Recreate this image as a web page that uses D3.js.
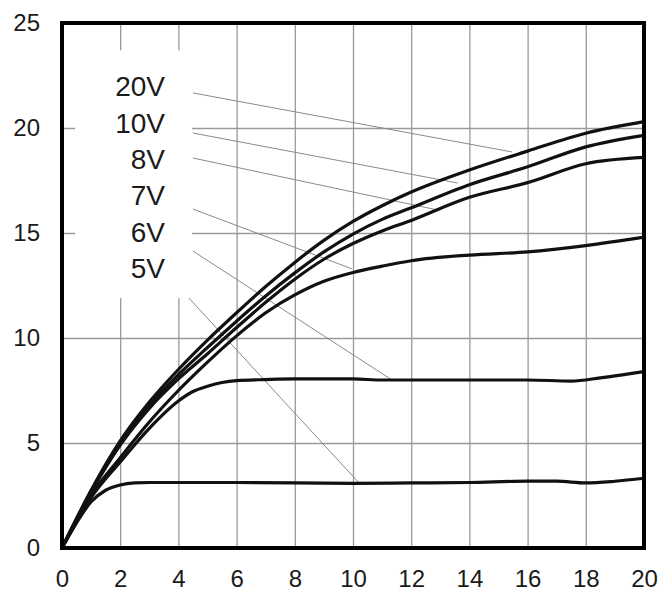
<!DOCTYPE html>
<html>
<head>
<meta charset="utf-8">
<script src="https://cdn.jsdelivr.net/npm/d3@7"></script>
<style>
  html, body { margin: 0; padding: 0; background: #fff; }
  svg { display: block; }
  text { font-family: "Liberation Sans", Arial, sans-serif; fill: #1a1a1a; }
</style>
</head>
<body>
<svg id="chart" width="662" height="591"></svg>
<script>
// Output curves, one per gate voltage: [x, y] pairs
const xTicks = [0, 2, 4, 6, 8, 10, 12, 14, 16, 18, 20];
const yTicks = [0, 5, 10, 15, 20, 25];

const seriesNames = ["20V", "10V", "8V", "7V", "6V", "5V"];

const v20 = [[0,0],[1,2.75],[2,5.1],[3,6.95],[4,8.5],[5,9.9],[6,11.2],[7,12.45],[8,13.6],[9,14.65],[10,15.55],[11,16.3],[12,16.95],[14,18.0],[16,18.9],[18,19.75],[20,20.3]];
const v10 = [[0,0],[1,2.7],[2,5.0],[3,6.8],[4,8.25],[5,9.55],[6,10.8],[7,12.0],[8,13.1],[9,14.1],[10,14.95],[11,15.65],[12,16.2],[14,17.3],[16,18.15],[18,19.1],[20,19.65]];
const v8  = [[0,0],[1,2.65],[2,4.9],[3,6.65],[4,8.05],[5,9.25],[6,10.5],[7,11.7],[8,12.8],[9,13.75],[10,14.5],[11,15.1],[12,15.6],[14,16.7],[16,17.4],[18,18.3],[20,18.6]];
const v7  = [[0,0],[1,2.5],[2,4.3],[3,6.0],[4,7.5],[5,8.85],[6,10.1],[7,11.2],[8,12.05],[9,12.7],[10,13.12],[11,13.42],[12,13.68],[14,13.95],[16,14.1],[18,14.4],[20,14.8]];
const v6  = [[0,0],[1,2.4],[2,4.1],[3,5.7],[4,7.0],[4.5,7.45],[5,7.7],[5.5,7.88],[6,7.97],[7,8.02],[8,8.05],[10,8.05],[11,8.0],[14,8.0],[16,8.0],[17.5,7.95],[18.5,8.1],[20,8.4]];
const v5  = [[0,0],[0.5,1.2],[1,2.2],[1.5,2.75],[2,3.0],[2.5,3.1],[3,3.12],[6,3.12],[10,3.08],[12,3.1],[14,3.12],[16,3.18],[17,3.18],[18,3.1],[19,3.18],[20,3.32]];

const seriesData = [v20, v10, v8, v7, v6, v5];

// Label callouts: label baseline (y), leader start and leader end on the curve
const labelY      = [21.52, 19.76, 18.05, 16.33, 14.57, 12.86];
const leaderStart = [[4.5,21.67],[4.5,19.76],[4.5,18.57],[4.5,16.14],[4.5,14.14],[4.36,11.9]];
const leaderEnd   = [[15.46,18.86],[13.6,17.38],[12.89,16.1],[9.97,13.29],[11.34,8.0],[10.24,3.05]];
const labelX = 3.54;
// White panel behind the callout labels [x0, x1, y0, y1]
const panel = [0.45, 4.47, 11.9, 23.7];

const svg = d3.select("#chart");
const x = d3.scaleLinear().domain([0, 20]).range([62, 644]);
const y = d3.scaleLinear().domain([0, 25]).range([548, 23]);
const W = x(20) - x(0), H = y(0) - y(25);

// grid
const gx = svg.append("g").attr("transform", `translate(0,${y(0)})`)
  .call(d3.axisBottom(x).tickValues(xTicks).tickSize(-H).tickFormat(""));
gx.select(".domain").remove();
gx.selectAll("line").attr("stroke", "#9a9a9a").attr("stroke-width", 1.3);

const gy = svg.append("g").attr("transform", `translate(${x(0)},0)`)
  .call(d3.axisLeft(y).tickValues(yTicks).tickSize(-W).tickFormat(""));
gy.select(".domain").remove();
gy.selectAll("line").attr("stroke", "#9a9a9a").attr("stroke-width", 1.3);

// panel behind labels
svg.append("rect")
  .attr("x", x(panel[0])).attr("width", x(panel[1]) - x(panel[0]))
  .attr("y", y(panel[3])).attr("height", y(panel[2]) - y(panel[3]))
  .attr("fill", "#fff");

// tick labels
const lx = svg.append("g").attr("transform", `translate(0,${y(0)})`)
  .call(d3.axisBottom(x).tickValues(xTicks).tickSize(0).tickPadding(22).tickFormat(d3.format("d")));
lx.select(".domain").remove();
lx.selectAll("text").attr("font-size", 24).attr("font-family", "Liberation Sans, Arial, sans-serif").attr("fill", "#1a1a1a");

const ly = svg.append("g").attr("transform", `translate(${x(0)},0)`)
  .call(d3.axisLeft(y).tickValues(yTicks).tickSize(0).tickPadding(22).tickFormat(d3.format("d")));
ly.select(".domain").remove();
ly.selectAll("text").attr("font-size", 24).attr("font-family", "Liberation Sans, Arial, sans-serif").attr("fill", "#1a1a1a");

// leader lines
svg.append("g").selectAll("line").data(seriesNames).join("line")
  .attr("x1", (d, i) => x(leaderStart[i][0])).attr("y1", (d, i) => y(leaderStart[i][1]))
  .attr("x2", (d, i) => x(leaderEnd[i][0])).attr("y2", (d, i) => y(leaderEnd[i][1]))
  .attr("stroke", "#8a8a8a").attr("stroke-width", 1);

// curves
const line = d3.line().x(d => x(d[0])).y(d => y(d[1])).curve(d3.curveMonotoneX);
svg.append("g").selectAll("path").data(seriesData).join("path")
  .attr("d", line).attr("fill", "none").attr("stroke", "#111")
  .attr("stroke-width", 3.2).attr("stroke-linejoin", "round");

// labels
svg.append("g").selectAll("text").data(seriesNames).join("text")
  .attr("x", x(labelX)).attr("y", (d, i) => y(labelY[i]))
  .attr("text-anchor", "end").attr("font-size", 28)
  .text(d => d);

// frame
svg.append("rect").attr("x", x(0)).attr("y", y(25)).attr("width", W).attr("height", H)
  .attr("fill", "none").attr("stroke", "#000").attr("stroke-width", 4);
</script>
</body>
</html>
